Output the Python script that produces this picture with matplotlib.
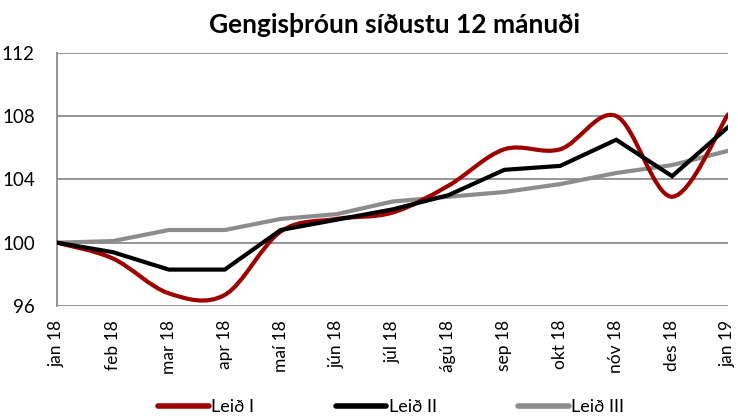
import numpy as np
import matplotlib.pyplot as plt
from matplotlib.path import Path
from matplotlib.patches import PathPatch
from matplotlib.lines import Line2D

plt.rcParams['font.family'] = ['Lato', 'DejaVu Sans']

# Data
months = ['jan 18', 'feb 18', 'mar 18', 'apr 18', 'maí 18', 'jún 18', 'júl 18',
          'ágú 18', 'sep 18', 'okt 18', 'nóv 18', 'des 18', 'jan 19']
leid1 = [100.0, 99.0, 96.8, 96.7, 100.7, 101.5, 101.9, 103.6, 105.9, 105.9, 108.0, 102.9, 108.1]
leid2 = [100.0, 99.4, 98.3, 98.3, 100.8, 101.45, 102.1, 103.0, 104.6, 104.85, 106.5, 104.2, 107.3]
leid3 = [100.0, 100.1, 100.8, 100.8, 101.5, 101.8, 102.6, 102.9, 103.2, 103.7, 104.4, 104.9, 105.8]

red = '#9e0000'
gray = '#8c8c8c'


def smooth_path(x, y):
    # Excel-style smoothed line: cubic Bezier segments through the points
    x = np.asarray(x, float)
    y = np.asarray(y, float)
    n = len(x)
    verts = [(x[0], y[0])]
    codes = [Path.MOVETO]
    for i in range(n - 1):
        x0, y0 = (x[i - 1], y[i - 1]) if i > 0 else (x[i], y[i])
        x3, y3 = (x[i + 2], y[i + 2]) if i + 2 < n else (x[i + 1], y[i + 1])
        c1 = (x[i] + (x[i + 1] - x0) / 6, y[i] + (y[i + 1] - y0) / 6)
        c2 = (x[i + 1] - (x3 - x[i]) / 6, y[i + 1] - (y3 - y[i]) / 6)
        verts += [c1, c2, (x[i + 1], y[i + 1])]
        codes += [Path.CURVE4] * 3
    return Path(verts, codes)


fig = plt.figure(figsize=(7.38, 4.16), dpi=100)
ax = fig.add_axes([0.0772, 0.2644, 0.9093, 0.609])

xs = np.arange(len(months))
ax.add_patch(PathPatch(smooth_path(xs, leid1), facecolor='none', edgecolor=red,
                       lw=3, capstyle='round', zorder=3))
ax.plot(xs, leid2, color='black', lw=3, solid_joinstyle='miter', zorder=4)
ax.plot(xs, leid3, color=gray, lw=3, zorder=2)

ax.set_xlim(0, len(months) - 1)
ax.set_ylim(96, 112)
ax.set_yticks([96, 100, 104, 108, 112])
ax.set_xticks(xs)
ax.set_xticklabels(months, rotation=90, fontsize=12.5)
ax.tick_params(axis='x', length=0, pad=10)
ax.tick_params(axis='y', length=0, pad=16, labelsize=13.5)
for lab in ax.get_yticklabels():
    lab.set_horizontalalignment('right')

ax.grid(axis='y', color=gray, lw=1.3)
ax.set_axisbelow(True)
for s in ['top', 'right', 'bottom']:
    ax.spines[s].set_visible(False)
ax.spines['left'].set_color(gray)
ax.spines['left'].set_linewidth(1.3)

fig.text(0.535, 0.94, 'Gengisþróun síðustu 12 mánuði', ha='center', va='center',
         fontsize=19, fontweight='bold')

handles = [Line2D([], [], color=red, lw=4, solid_capstyle='round'),
           Line2D([], [], color='black', lw=4, solid_capstyle='round'),
           Line2D([], [], color=gray, lw=4, solid_capstyle='round')]
fig.legend(handles, ['Leið I', 'Leið II', 'Leið III'], ncol=3, frameon=False,
           loc='center', bbox_to_anchor=(0.53, 0.022), fontsize=13,
           handlelength=2.8, handletextpad=0.15, columnspacing=4.5)

fig.savefig('out.png', dpi=100)
